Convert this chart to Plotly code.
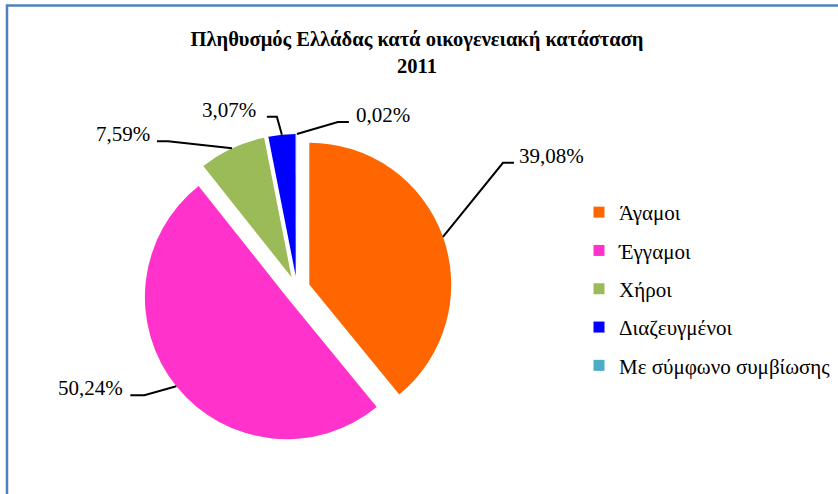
import plotly.graph_objects as go
import math

categories = ["Άγαμοι", "Έγγαμοι", "Χήροι", "Διαζευγμένοι", "Με σύμφωνο συμβίωσης"]
shares = [39.08, 50.24, 7.59, 3.07, 0.02]
colors = ["#FF6600", "#FF33CC", "#9BBB59", "#0000FF", "#4BACC6"]
title_lines = ["Πληθυσμός Ελλάδας κατά οικογενειακή κατάσταση", "2011"]

W, H = 838, 494
FONT = "Liberation Serif, Times New Roman, serif"

# pie geometry (pixels)
CX, CY, BOX, PULL = 297, 289, 310, 0.092
R_RIM = BOX / 2  # rim distance of pulled slice at its bisector

# label placement styles: elbow offset from rim (px), horizontal stub length (px), text gap (px)
label_elbow = [(60, -74), (-32, 9), (-64, -7), (-5, -18), (41, -12)]
label_stub = [11, -14, -11, -10, 11]
label_gap = [3, 5, 5, 9, 5]

fig = go.Figure()
fig.add_trace(go.Pie(
    labels=categories,
    values=shares,
    sort=False,
    direction="clockwise",
    rotation=0,
    pull=[PULL] * len(shares),
    marker=dict(colors=colors, line=dict(width=0)),
    textinfo="none",
    showlegend=False,
    automargin=False,
    domain=dict(x=[(CX - BOX / 2) / W, (CX + BOX / 2) / W],
                y=[1 - (CY + BOX / 2) / H, 1 - (CY - BOX / 2) / H]),
))

# legend entries
for c, col in zip(categories, colors):
    fig.add_trace(go.Scatter(
        x=[None], y=[None], mode="markers", name=c, legendgroup=c,
        marker=dict(symbol="square", size=11, color=col),
        showlegend=True, hoverinfo="skip",
    ))

def px2paper(x, y):
    return x / W, 1 - y / H

shapes = [dict(type="rect", xref="paper", yref="paper",
               x0=7 / W, x1=1.05, y0=-0.05, y1=1 - 5.5 / H,
               line=dict(color="#4F81BD", width=2.5))]
annotations = []
total = sum(shares)
cum = 0.0
for i, v in enumerate(shares):
    mid = 2 * math.pi * (cum + v / 2) / total
    cum += v
    rx = CX + R_RIM * math.sin(mid)
    ry = CY - R_RIM * math.cos(mid)
    ex, ey = rx + label_elbow[i][0], ry + label_elbow[i][1]
    sx, sy = ex + label_stub[i], ey
    pts = [px2paper(rx, ry), px2paper(ex, ey), px2paper(sx, sy)]
    path = "M {:.5f},{:.5f} L {:.5f},{:.5f} L {:.5f},{:.5f}".format(*pts[0], *pts[1], *pts[2])
    shapes.append(dict(type="path", xref="paper", yref="paper", path=path,
                       line=dict(color="#000000", width=2)))
    side = 1 if label_stub[i] > 0 else -1
    tx, ty = px2paper(sx + side * label_gap[i], sy - 7)
    annotations.append(dict(
        x=tx, y=ty, xref="paper", yref="paper", showarrow=False,
        xanchor="left" if side > 0 else "right", yanchor="middle",
        text=("{:.2f}".format(v)).replace(".", ",") + "%",
        font=dict(family=FONT, size=21, color="#000000"),
    ))

fig.update_layout(
    width=W, height=H,
    margin=dict(l=0, r=0, t=0, b=0),
    paper_bgcolor="white", plot_bgcolor="white",
    font=dict(family=FONT, size=20, color="#000000"),
    separators=",.",
    title=dict(
        text="<b>" + "<br>".join(title_lines) + "</b>",
        x=417 / W, xanchor="center", y=1 - 46 / H, yanchor="top",
        font=dict(family=FONT, size=20.5, color="#000000"),
    ),
    xaxis=dict(visible=False), yaxis=dict(visible=False),
    legend=dict(
        x=579 / W, xanchor="left", y=1 - 192 / H, yanchor="top",
        font=dict(family=FONT, size=21, color="#000000"),
        tracegroupgap=8, itemwidth=30, bgcolor="rgba(0,0,0,0)",
    ),
    shapes=shapes,
    annotations=annotations,
)

fig.write_html("out.html", config={"displayModeBar": False},
               post_script="document.body.style.margin='0';")
